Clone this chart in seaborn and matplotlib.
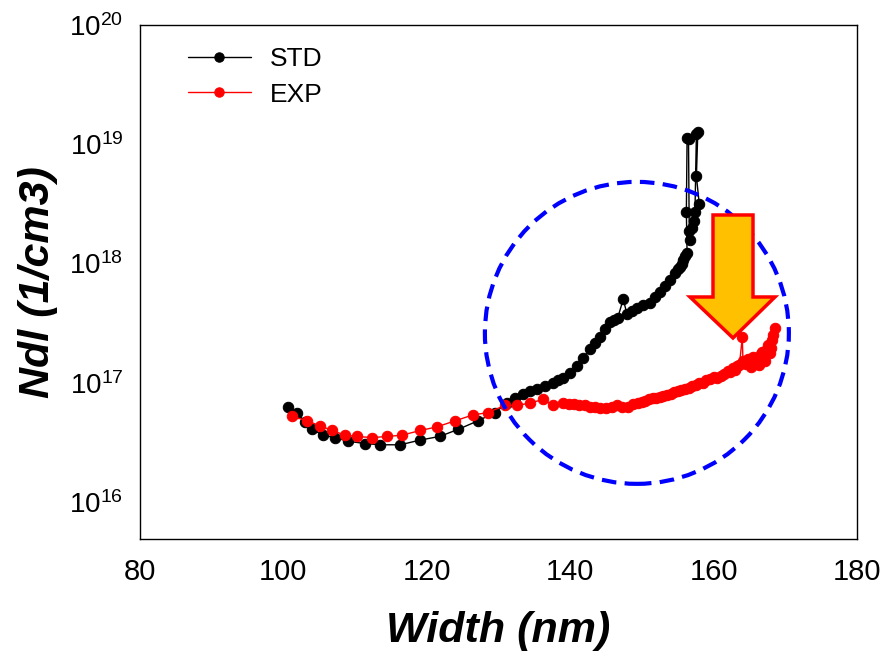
import numpy as np
import pandas as pd
import matplotlib
matplotlib.use("Agg")
import matplotlib.pyplot as plt
from matplotlib.patches import Ellipse, Polygon
import seaborn as sns

# STD curve (width in nm, log10 of Ndl)
std_width = [100.6, 101.9, 103.0, 104.0, 105.5, 107.2, 109.0, 111.4, 113.5, 116.3,
             119.1, 121.8, 124.4, 127.1, 129.5, 131.2, 132.3, 133.4, 134.4, 135.4,
             136.5, 137.6, 138.3, 139.0, 140.0, 140.9, 141.8, 142.8, 143.5, 144.2,
             144.9, 145.6, 146.1, 146.6, 147.4, 147.9, 148.6, 149.3, 150.2, 151.1,
             151.8, 152.5, 153.2, 153.9, 154.6, 155.0, 155.3, 155.6, 155.8, 156.0,
             156.3, 156.2, 156.3, 156.5, 156.6, 156.7, 157.0, 157.2, 157.4, 157.6,
             157.8, 157.6, 158.0]
std_log = [16.80, 16.75, 16.67, 16.61, 16.56, 16.54, 16.51, 16.49, 16.48, 16.48,
           16.52, 16.55, 16.61, 16.68, 16.75, 16.83, 16.87, 16.91, 16.93, 16.95,
           16.97, 17.00, 17.02, 17.04, 17.08, 17.14, 17.21, 17.28, 17.33, 17.38,
           17.45, 17.51, 17.53, 17.54, 17.70, 17.58, 17.60, 17.63, 17.65, 17.67,
           17.72, 17.76, 17.81, 17.86, 17.92, 17.95, 17.97, 18.00, 18.03, 18.06,
           18.09, 18.43, 19.05, 19.04, 18.27, 18.20, 18.30, 18.36, 18.43, 19.09,
           19.10, 18.73, 18.50]

# EXP curve
exp_width = [101.2, 103.3, 105.1, 106.8, 108.6, 110.3, 112.4, 114.4, 116.5, 119.1,
             121.4, 123.9, 126.4, 128.5, 130.9, 132.6, 134.4, 136.2, 137.6, 139.0,
             139.8, 140.5, 141.2, 142.0, 142.8, 143.5, 144.2, 145.0, 145.8, 146.5,
             147.2, 148.0, 148.8, 149.5, 150.0, 150.5, 151.0, 151.5, 152.0, 152.5,
             153.0, 153.5, 154.0, 154.5, 155.0, 155.5, 156.0, 156.5, 157.0, 157.5,
             158.0, 158.5, 159.0, 159.5, 160.0, 160.5, 161.0, 161.5, 162.0, 162.3,
             162.7, 163.0, 163.3, 163.6, 164.0, 164.1, 164.5, 164.8, 165.2, 165.5,
             165.8, 166.0, 166.3, 166.6, 166.8, 167.0, 167.2, 167.4, 167.6, 167.8,
             168.0, 168.2, 168.3, 168.6]
exp_log = [16.72, 16.68, 16.64, 16.60, 16.56, 16.55, 16.54, 16.55, 16.56, 16.60,
           16.63, 16.68, 16.73, 16.75, 16.81, 16.81, 16.83, 16.86, 16.81, 16.83,
           16.82, 16.82, 16.81, 16.81, 16.80, 16.80, 16.79, 16.79, 16.80, 16.81,
           16.80, 16.80, 16.82, 16.83, 16.84, 16.85, 16.86, 16.87, 16.87, 16.88,
           16.89, 16.90, 16.91, 16.92, 16.93, 16.94, 16.95, 16.96, 16.97, 16.98,
           17.00, 17.00, 17.02, 17.03, 17.05, 17.04, 17.06, 17.07, 17.10, 17.09,
           17.12, 17.11, 17.14, 17.15, 17.38, 17.18, 17.16, 17.20, 17.13, 17.22,
           17.21, 17.17, 17.15, 17.24, 17.26, 17.20, 17.18, 17.28, 17.32, 17.25,
           17.29, 17.36, 17.40, 17.46]

df = pd.concat([
    pd.DataFrame({"width": std_width, "ndl": 10.0 ** np.array(std_log), "set": "STD"}),
    pd.DataFrame({"width": exp_width, "ndl": 10.0 ** np.array(exp_log), "set": "EXP"}),
], ignore_index=True)

sns.set_style("white")
plt.rcParams['font.family'] = ['Liberation Sans', 'DejaVu Sans']
plt.rcParams['mathtext.default'] = 'regular'
for k in ['text.color', 'axes.labelcolor', 'xtick.color', 'ytick.color']:
    plt.rcParams[k] = 'black'

fig = plt.figure(figsize=(8.89, 6.61), dpi=100)
ax = fig.add_axes([0.1575, 0.1846, 0.8065, 0.7776])

for name, col in [("STD", "black"), ("EXP", "#ff0000")]:
    sub = df[df["set"] == name]
    sns.lineplot(data=sub, x="width", y="ndl", sort=False, estimator=None,
                 color=col, linewidth=1.0, marker="o", markersize=7.5,
                 markeredgecolor=col, label=name, ax=ax)

ax.set_yscale("log")
ax.set_xlim(80, 180)
ax.set_ylim(4.9e15, 1e20)
ax.set_xticks([80, 100, 120, 140, 160, 180])
ax.set_yticks([1e16, 1e17, 1e18, 1e19, 1e20])
ax.minorticks_off()
ax.tick_params(axis="x", direction="in", length=6, width=1, labelsize=21, pad=14)
ax.tick_params(axis="y", direction="in", length=6, width=1, labelsize=20, pad=12)
for s in ax.spines.values():
    s.set_color("black")
    s.set_linewidth(1.0)

ax.set_xlabel("Width (nm)", fontsize=31, fontweight="bold", fontstyle="italic", labelpad=18)
ax.set_ylabel("Ndl (1/cm3)", fontsize=31, fontweight="bold", fontstyle="italic", labelpad=8)

# dashed circle marking the high-width region
circ = Ellipse((0.693, 0.401), 0.424, 0.5875, transform=ax.transAxes, fill=False,
               edgecolor="#0000ff", linewidth=3, linestyle=(0, (3.5, 2)), zorder=5)
ax.add_patch(circ)

# down arrow
def px(x, y):
    return ((x - 140) / 717, (539 - y) / 514)

arrow_pts = [px(713, 215), px(753, 215), px(753, 297), px(775, 297), px(733, 338),
             px(690, 297), px(713, 297)]
ax.add_patch(Polygon(arrow_pts, closed=True, transform=ax.transAxes, facecolor="#ffc000",
                     edgecolor="#ff0000", linewidth=2.5, zorder=6))

leg = ax.legend(loc="upper left", bbox_to_anchor=(0.048, 0.982), frameon=False,
                fontsize=19, handlelength=2.4, handletextpad=0.7, labelspacing=0.42,
                borderpad=0, markerscale=0.9)

fig.savefig("out.png", dpi=100)
